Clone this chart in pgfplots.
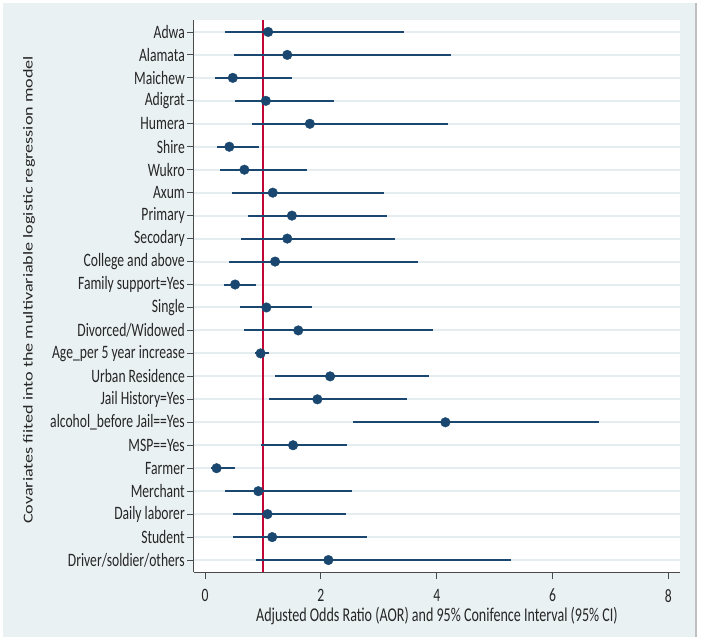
\documentclass[border=0pt]{standalone}
\usepackage{pgfplots}
\pgfplotsset{compat=1.18}
\usepackage{pgfplotstable}
\usepackage{graphicx}
\usepackage{fontspec}
\setmainfont{Carlito}[FakeStretch=0.72]
\newfontfamily\ylfont{Carlito}
\usetikzlibrary{backgrounds}
\definecolor{bgcol}{HTML}{EAF1F3}
\definecolor{gridcol}{HTML}{E6EDF1}
\definecolor{navy}{HTML}{1A476F}
\definecolor{refred}{HTML}{C10534}
\definecolor{axgray}{HTML}{4A4A4A}
\pgfplotstableread{
idx or lo hi
24 1.09 0.35 3.44
23 1.42 0.50 4.25
22 0.48 0.17 1.50
21 1.05 0.51 2.22
20 1.81 0.81 4.19
19 0.42 0.21 0.94
18 0.68 0.26 1.76
17 1.17 0.47 3.09
16 1.50 0.74 3.14
15 1.42 0.63 3.28
14 1.21 0.42 3.67
13 0.52 0.32 0.88
12 1.06 0.61 1.85
11 1.61 0.68 3.93
10 0.96 0.86 1.11
9 2.16 1.21 3.86
8 1.94 1.10 3.48
7 4.15 2.55 6.80
6 1.52 0.96 2.45
5 0.20 0.10 0.51
4 0.92 0.35 2.53
3 1.08 0.49 2.44
2 1.16 0.49 2.79
1 2.13 0.88 5.28
}\datatable
\begin{document}
\begin{tikzpicture}
\begin{axis}[
  scale only axis, width=486bp, height=552bp,
  xmin=-0.19, xmax=8.2, ymin=0.48, ymax=24.52,
  axis x line*=bottom, axis y line*=left,
  axis line style={-, draw=axgray, line width=1pt},
  xtick={0,2,4,6,8}, ytick={1,...,24},
  yticklabels={{Driver/soldier/others},{Student},{Daily laborer},{Merchant},{Farmer},{MSP==Yes},{alcohol\_before Jail==Yes},{Jail History=Yes},{Urban Residence},{Age\_per 5 year increase},{Divorced/Widowed},{Single},{Family support=Yes},{College and above},{Secodary},{Primary},{Axum},{Wukro},{Shire},{Humera},{Adigrat},{Maichew},{Alamata},{Adwa}},
  tick align=outside, major tick length=7bp,
  tick style={draw=axgray, line width=0.8pt},
  ymajorgrids, grid style={draw=gridcol, line width=2bp},
  axis background/.style={fill=white},
  tick label style={font=\fontsize{19}{20}\selectfont, text=black!85},
  xticklabel style={inner sep=1bp, yshift=-9bp},
  yticklabel style={inner sep=2bp},
  /pgf/number format/assume math mode=true,
  xlabel={Adjusted Odds Ratio (AOR) and 95\% Conifence Interval (95\% CI)},
  ylabel={\scalebox{1}[0.75]{\ylfont\fontsize{18.2}{20}\selectfont Covariates fiited into the multivariable logistic regression model}},
  every axis x label/.style={at={(rel axis cs:0.5,0)}, anchor=north, inner sep=0bp, yshift=-35bp, font=\fontsize{19.6}{21}\selectfont, text=black!85},
  every axis y label/.style={at={(rel axis cs:0,0.5)}, xshift=-165bp, yshift=6bp, rotate=90, anchor=center, inner sep=0bp, text=black!85},
  clip=false,
]
\coordinate (SW) at (rel axis cs:0,0);
\coordinate (NE) at (rel axis cs:1,1);
\addplot[refred, line width=2bp] coordinates {(1,0.48) (1,24.52)};
\addplot[only marks, mark=*, mark size=4.8bp, navy, mark options={fill=navy, draw=navy},
  error bars/.cd, x dir=both, x explicit, error mark=none,
  error bar style={line width=2bp, navy}]
  table[x=or, y=idx, x error plus expr=\thisrow{hi}-\thisrow{or}, x error minus expr=\thisrow{or}-\thisrow{lo}] {\datatable};
\end{axis}
\begin{scope}[on background layer]
\fill[white] ([shift={(-194bp,-69bp)}]SW) rectangle ([shift={(22bp,20bp)}]NE);
\fill[bgcol] ([shift={(-191bp,-65bp)}]SW) rectangle ([shift={(16bp,17bp)}]NE);
\draw[black!25, line width=1.5bp] ([shift={(16bp,-65bp)}]SW -| NE) -- ([shift={(16bp,17bp)}]NE);
\end{scope}
\end{tikzpicture}
\end{document}
